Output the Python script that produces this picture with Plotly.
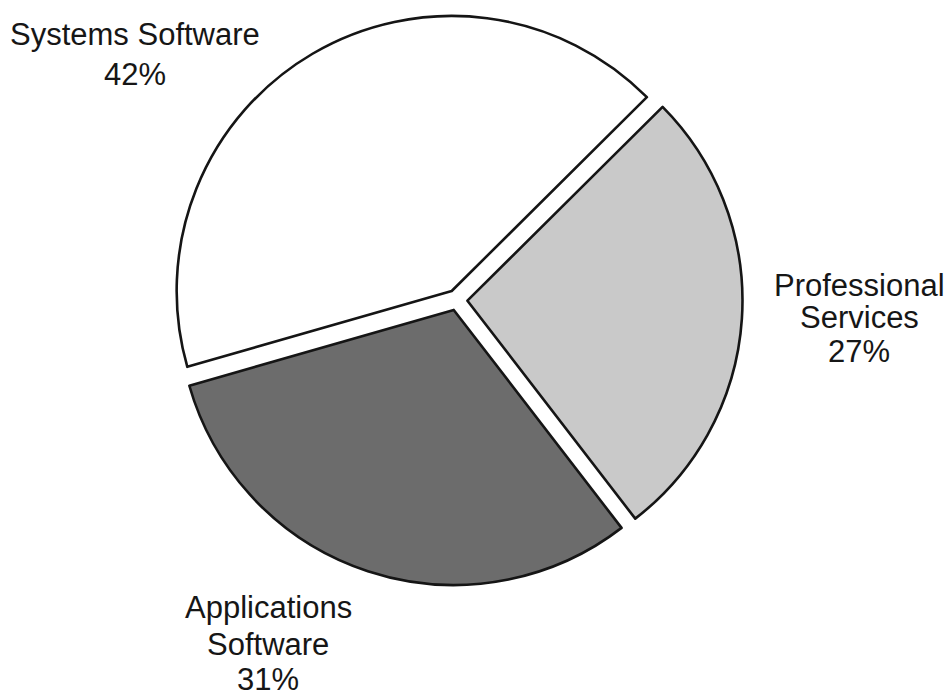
import plotly.graph_objects as go

# Revenue mix by segment (percent of total)
categories = ["Systems Software", "Professional Services", "Applications Software"]
shares = [42, 27, 31]
label_lines = [["Systems Software"], ["Professional", "Services"], ["Applications", "Software"]]
fill_colors = ["#ffffff", "#c9c9c9", "#6c6c6c"]

W, H = 948, 700

fig = go.Figure(
    go.Pie(
        labels=categories,
        values=shares,
        sort=False,
        direction="clockwise",
        rotation=-106,
        pull=[0.038, 0.038, 0.038],
        textinfo="none",
        hoverinfo="label+percent",
        showlegend=False,
        marker=dict(colors=fill_colors, line=dict(color="#151515", width=2.6)),
        domain=dict(x=[171.5 / W, 742.5 / W], y=[1 - 585.5 / H, 1 - 14.5 / H]),
    )
)

# label blocks: centre x and the vertical centre of each text line (pixels)
label_layout = {
    "Systems Software": (135, [34.5, 74.5]),
    "Professional Services": (859, [285.5, 317.5, 351.5]),
    "Applications Software": (268, [607.5, 644.5, 679.5]),
}

annotations = []
for name, share, lines in zip(categories, shares, label_lines):
    cx, ys = label_layout[name]
    for text, py in zip(lines + [f"{share}%"], ys):
        annotations.append(
            dict(
                x=cx / W,
                y=1 - py / H,
                xref="paper",
                yref="paper",
                xanchor="center",
                yanchor="middle",
                text=text,
                showarrow=False,
                font=dict(family="Liberation Sans, Arial, sans-serif", size=31, color="#161616"),
            )
        )

fig.update_layout(
    width=W,
    height=H,
    margin=dict(l=0, r=0, t=0, b=0),
    paper_bgcolor="#ffffff",
    plot_bgcolor="#ffffff",
    annotations=annotations,
)

fig.write_html("out.html")
